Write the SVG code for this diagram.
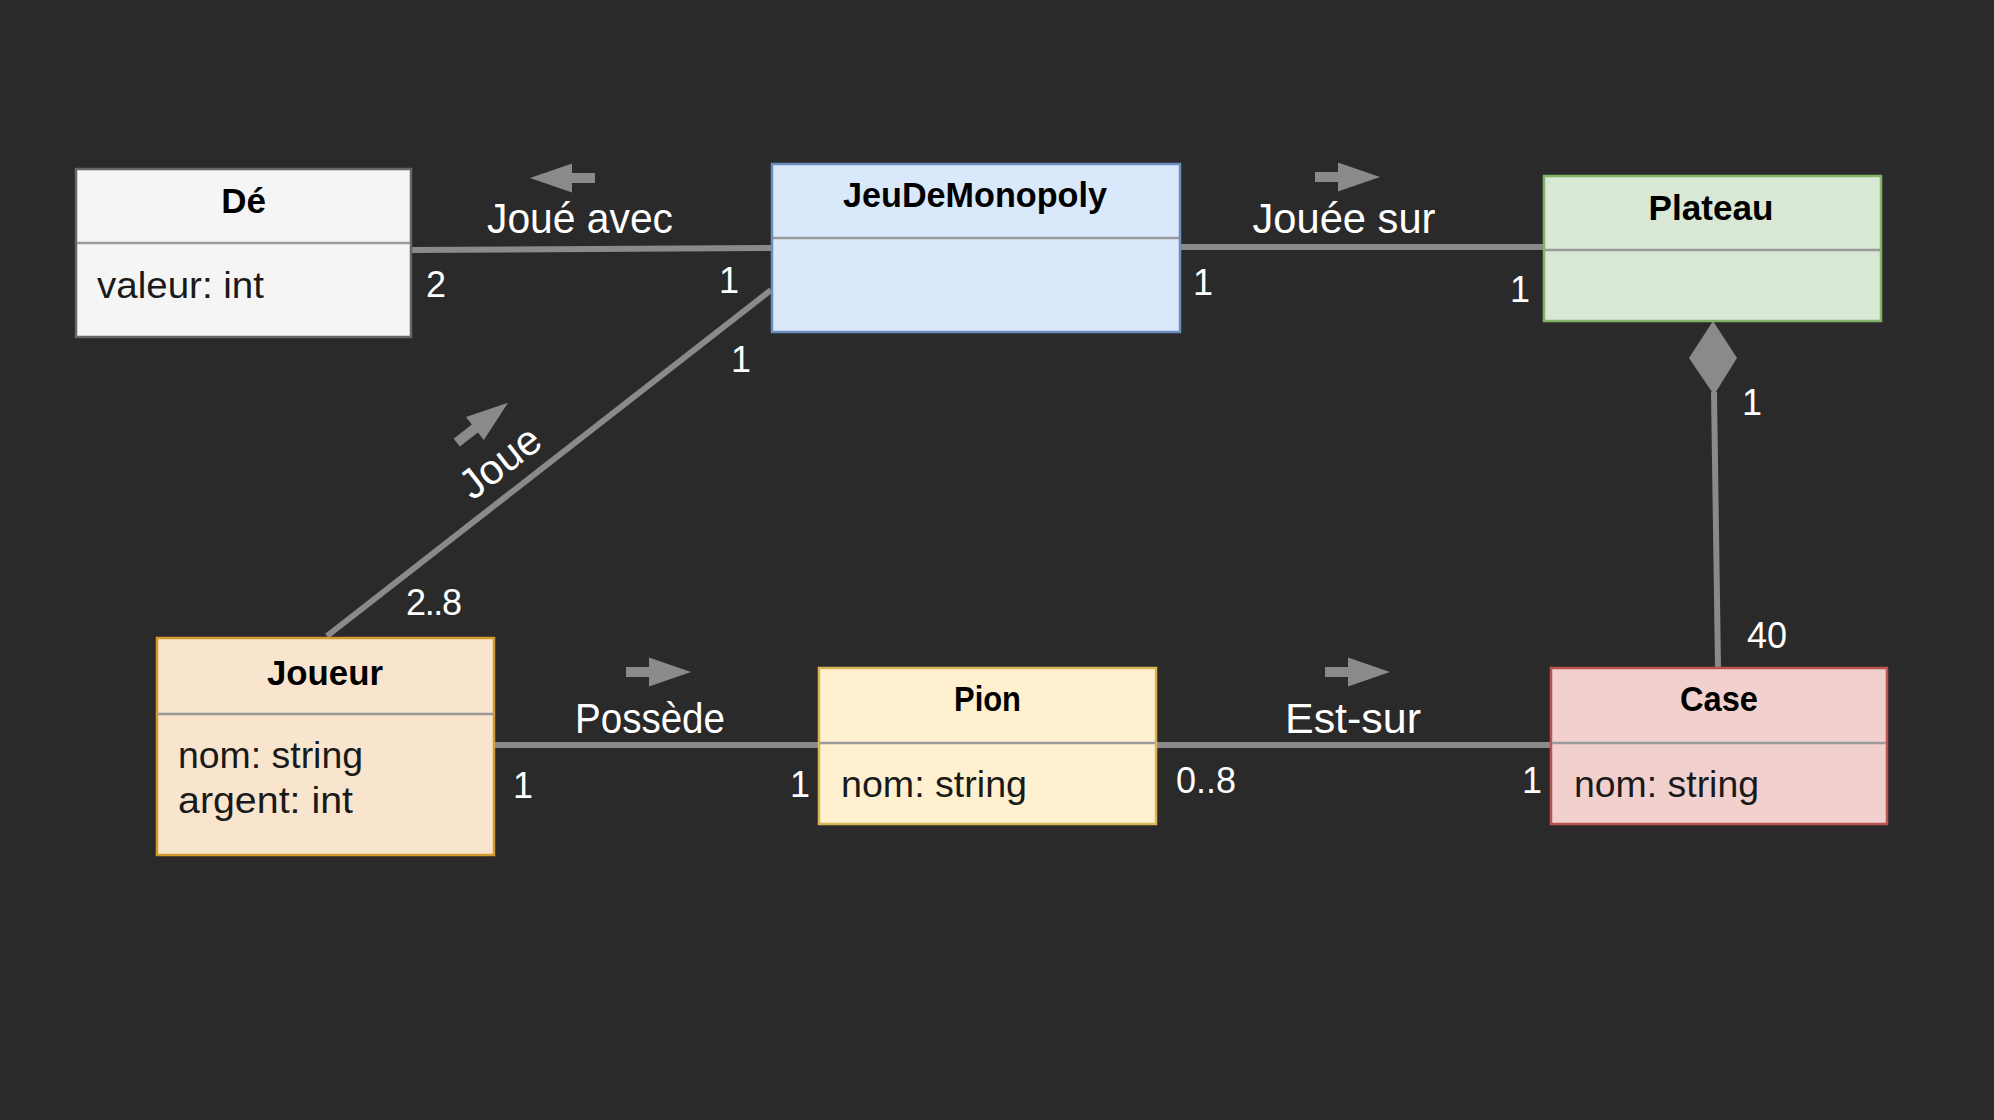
<svg xmlns="http://www.w3.org/2000/svg" xmlns:xlink="http://www.w3.org/1999/xlink" width="1994" height="1120" viewBox="0 0 1994 1120">
<style>
.box{stroke-width:2.5}
.div{stroke:#9a9a9a;stroke-width:2.5}
.title{font-family:"Liberation Sans",Arial,sans-serif;font-weight:bold;font-size:35px;fill:#000;text-anchor:middle}
.field{font-family:"Liberation Sans",Arial,sans-serif;font-size:36px;fill:#1a1a1a}
.label{font-family:"Liberation Sans",Arial,sans-serif;font-size:42px;fill:#fff;text-anchor:middle}
.mult{font-family:"Liberation Sans",Arial,sans-serif;font-size:36px;fill:#fff}
.conn{stroke:#8a8a8a;stroke-width:6;fill:none}
.arr{fill:#8a8a8a}
</style>
<defs>
<path id="dirArrow" d="M-32,-5 H-9 V-14.5 L33,0 L-9,14.5 V5 H-32 Z"/>
</defs>
<rect width="1994" height="1120" fill="#2a2a2a"/>

<g id="connectors">
  <line class="conn" x1="411" y1="250" x2="772" y2="248"/>
  <line class="conn" x1="1180" y1="247" x2="1544" y2="247"/>
  <line class="conn" x1="771" y1="290" x2="327" y2="636"/>
  <line class="conn" x1="1714" y1="392" x2="1718" y2="668"/>
  <path class="arr" d="M1713,321 L1737,358 L1714,395 L1689,358 Z"/>
  <line class="conn" x1="494" y1="745" x2="819" y2="745"/>
  <line class="conn" x1="1156" y1="745" x2="1551" y2="745"/>

  <text class="label" x="580" y="233" textLength="186" lengthAdjust="spacingAndGlyphs">Joué avec</text>
  <use href="#dirArrow" class="arr" transform="translate(563,178) rotate(180)"/>
  <text class="label" x="1344" y="233" textLength="183" lengthAdjust="spacingAndGlyphs">Jouée sur</text>
  <use href="#dirArrow" class="arr" transform="translate(1347,177)"/>
  <g transform="translate(518.5,486) rotate(-37.9)">
    <text class="label" x="0" y="-16">Joue</text>
  </g>
  <use href="#dirArrow" class="arr" transform="translate(482,423) rotate(-37.9)"/>
  <text class="label" x="650" y="733" textLength="150" lengthAdjust="spacingAndGlyphs">Possède</text>
  <use href="#dirArrow" class="arr" transform="translate(658,672)"/>
  <text class="label" x="1353" y="733" textLength="136" lengthAdjust="spacingAndGlyphs">Est-sur</text>
  <use href="#dirArrow" class="arr" transform="translate(1357,672)"/>

  <text class="mult" x="426" y="297">2</text>
  <text class="mult" x="719" y="293">1</text>
  <text class="mult" x="731" y="372">1</text>
  <text class="mult" x="1193" y="295">1</text>
  <text class="mult" x="1510" y="302">1</text>
  <text class="mult" x="1742" y="415">1</text>
  <text class="mult" x="1747" y="648">40</text>
  <text class="mult" x="406" y="615" textLength="56">2..8</text>
  <text class="mult" x="513" y="798">1</text>
  <text class="mult" x="790" y="797">1</text>
  <text class="mult" x="1176" y="793" textLength="60">0..8</text>
  <text class="mult" x="1522" y="793">1</text>
</g>

<g id="node-de">
  <rect class="box" x="76" y="169" width="335" height="168" fill="#f5f5f5" stroke="#666666"/>
  <line class="div" x1="77" y1="243" x2="410" y2="243"/>
  <text class="title" x="243.5" y="213">Dé</text>
  <text class="field" x="97" y="298" textLength="167" lengthAdjust="spacingAndGlyphs">valeur: int</text>
</g>

<g id="node-jeudemonopoly">
  <rect class="box" x="772" y="164" width="408" height="168" fill="#dae8fc" stroke="#6c8ebf"/>
  <line class="div" x1="773" y1="238" x2="1179" y2="238"/>
  <text class="title" x="975" y="207" textLength="264" lengthAdjust="spacingAndGlyphs">JeuDeMonopoly</text>
</g>

<g id="node-plateau">
  <rect class="box" x="1544" y="176" width="337" height="145" fill="#d9e7d5" stroke="#82b366"/>
  <line class="div" x1="1545" y1="250" x2="1880" y2="250"/>
  <text class="title" x="1711" y="220" textLength="125" lengthAdjust="spacingAndGlyphs">Plateau</text>
</g>

<g id="node-joueur">
  <rect class="box" x="157" y="638" width="337" height="217" fill="#f9e5cd" stroke="#d39a2f"/>
  <line class="div" x1="158" y1="714" x2="493" y2="714"/>
  <text class="title" x="325" y="685" textLength="116" lengthAdjust="spacingAndGlyphs">Joueur</text>
  <text class="field" x="178" y="768" textLength="185" lengthAdjust="spacingAndGlyphs">nom: string</text>
  <text class="field" x="178" y="813" textLength="175" lengthAdjust="spacingAndGlyphs">argent: int</text>
</g>

<g id="node-pion">
  <rect class="box" x="819" y="668" width="337" height="156" fill="#fff1d0" stroke="#d6b656"/>
  <line class="div" x1="820" y1="743" x2="1155" y2="743"/>
  <text class="title" x="987.5" y="711" textLength="67" lengthAdjust="spacingAndGlyphs">Pion</text>
  <text class="field" x="841" y="797" textLength="186" lengthAdjust="spacingAndGlyphs">nom: string</text>
</g>

<g id="node-case">
  <rect class="box" x="1551" y="668" width="336" height="156" fill="#f1d0ce" stroke="#b85450"/>
  <line class="div" x1="1552" y1="743" x2="1886" y2="743"/>
  <text class="title" x="1719" y="711" textLength="78" lengthAdjust="spacingAndGlyphs">Case</text>
  <text class="field" x="1574" y="797" textLength="185" lengthAdjust="spacingAndGlyphs">nom: string</text>
</g>
</svg>
